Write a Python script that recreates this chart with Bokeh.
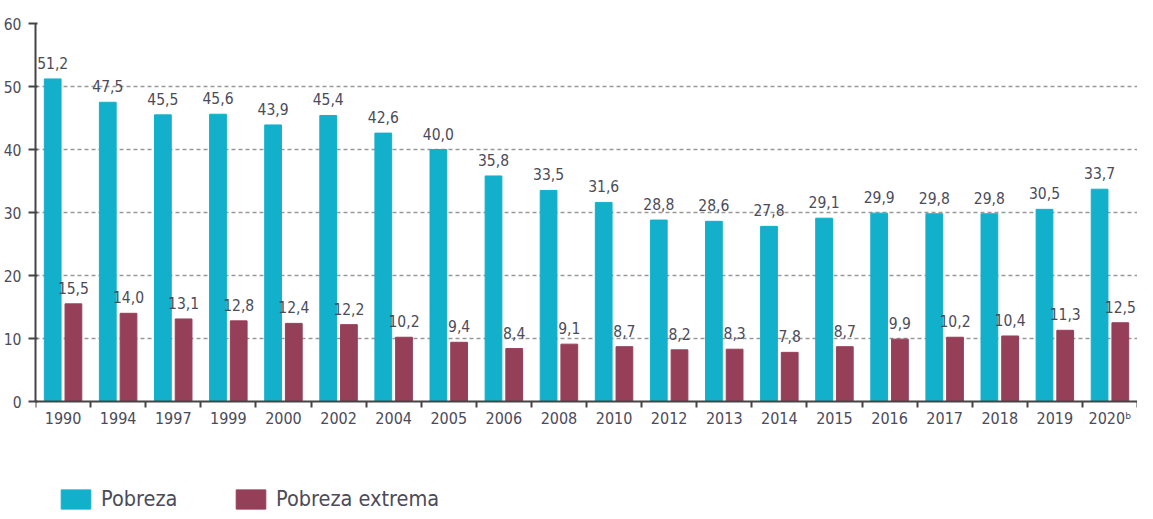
from bokeh.plotting import figure
from bokeh.models import (ColumnDataSource, Range1d, FixedTicker, LabelSet,
                          Legend, LegendItem)
from bokeh.core.properties import value
from bokeh.embed import file_html
from bokeh.resources import INLINE
import numpy as np

years = ["1990", "1994", "1997", "1999", "2000", "2002", "2004", "2005", "2006", "2008",
         "2010", "2012", "2013", "2014", "2015", "2016", "2017", "2018", "2019", "2020ᵇ"]
pobreza = [51.2, 47.5, 45.5, 45.6, 43.9, 45.4, 42.6, 40.0, 35.8, 33.5,
           31.6, 28.8, 28.6, 27.8, 29.1, 29.9, 29.8, 29.8, 30.5, 33.7]
pobreza_extrema = [15.5, 14.0, 13.1, 12.8, 12.4, 12.2, 10.2, 9.4, 8.4, 9.1,
                   8.7, 8.2, 8.3, 7.8, 8.7, 9.9, 10.2, 10.4, 11.3, 12.5]

FONT = "DejaVu Sans Condensed, Roboto"
TXT = "#4b4b5a"
TEAL = "#13b0cb"
MAROON = "#963f59"
AX = "#444444"

n = len(years)
centers = np.arange(n) + 0.5
off = 0.188
bw = 0.304

def fmt(v):
    return f"{v:.1f}".replace(".", ",")

src1 = ColumnDataSource(dict(x=centers - off, y=pobreza, t=[fmt(v) for v in pobreza]))
src2 = ColumnDataSource(dict(x=centers + off, y=pobreza_extrema, t=[fmt(v) for v in pobreza_extrema]))

# frame runs from the top margin to the canvas bottom; y=0 sits 110px above the bottom
p = figure(width=1137, height=511, output_backend="svg", toolbar_location=None,
           x_range=Range1d(0, 20), y_range=Range1d(-17.46, 60),
           min_border_left=33, min_border_right=0, min_border_top=23, min_border_bottom=0)
p.outline_line_color = None
p.background_fill_color = "white"

r1 = p.vbar(x="x", top="y", width=bw, source=src1, color=TEAL)
r2 = p.vbar(x="x", top="y", width=bw, source=src2, color=MAROON)

for s in (src1, src2):
    p.add_layout(LabelSet(x="x", y="y", text="t", source=s, text_align="center",
                          text_baseline="alphabetic", y_offset=10,
                          text_font=value(FONT), text_font_size=value("15.5px"),
                          text_color=TXT))

# x axis, pinned at y = 0
p.xaxis.fixed_location = 0
p.xaxis.ticker = FixedTicker(ticks=list(centers), minor_ticks=list(np.arange(n + 1)))
p.xaxis.major_label_overrides = {float(c): y for c, y in zip(centers, years)}
p.xaxis.major_tick_out = 0
p.xaxis.major_tick_in = 0
p.xaxis.minor_tick_out = 6
p.xaxis.minor_tick_in = 0
p.xaxis.minor_tick_line_color = AX
p.xaxis.minor_tick_line_width = 2
p.xaxis.axis_line_color = AX
p.xaxis.axis_line_width = 2
p.xaxis.major_label_standoff = 1
p.xaxis.major_label_text_font = FONT
p.xaxis.major_label_text_font_size = "16px"
p.xaxis.major_label_text_color = TXT

# y axis
p.yaxis.bounds = (0, 60)
p.yaxis.ticker = FixedTicker(ticks=[0, 10, 20, 30, 40, 50, 60])
p.yaxis.major_tick_out = 7
p.yaxis.major_tick_in = 2
p.yaxis.minor_tick_line_color = None
p.yaxis.major_tick_line_color = AX
p.yaxis.major_tick_line_width = 2
p.yaxis.axis_line_color = AX
p.yaxis.axis_line_width = 2
p.yaxis.major_label_standoff = 7
p.yaxis.major_label_text_font = FONT
p.yaxis.major_label_text_font_size = "15.5px"
p.yaxis.major_label_text_color = TXT

p.xgrid.grid_line_color = None
p.ygrid.ticker = FixedTicker(ticks=[10, 20, 30, 40, 50, 60])
p.ygrid.grid_line_color = "#999999"
p.ygrid.grid_line_dash = "4 3"
p.ygrid.grid_line_width = 1.5

legend = Legend(items=[LegendItem(label="Pobreza", renderers=[r1]),
                       LegendItem(label="Pobreza extrema", renderers=[r2])],
                location=(22, 0), orientation="horizontal",
                glyph_width=37, glyph_height=24, label_standoff=7, label_width=131,
                spacing=0, padding=0, margin=0, border_line_color=None,
                background_fill_alpha=0,
                label_text_font=FONT, label_text_font_size="21.5px", label_text_color=TXT)
p.add_layout(legend)

open("out.html", "w").write(file_html(p, INLINE))
